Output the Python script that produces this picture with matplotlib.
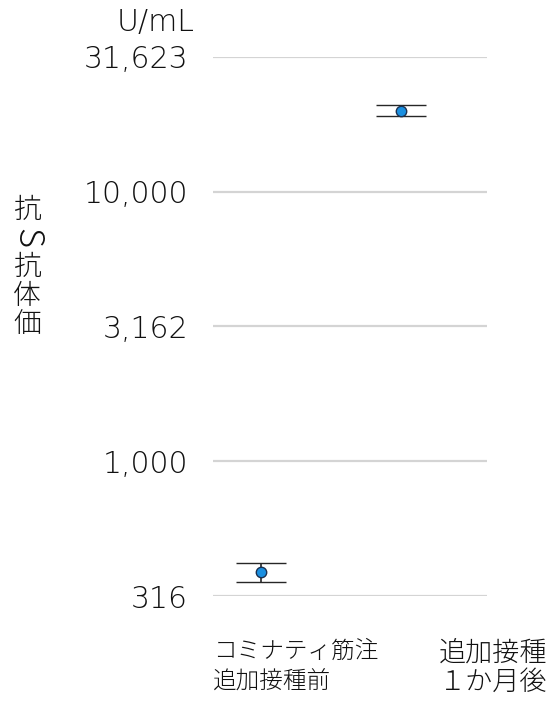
import numpy as np
import matplotlib.pyplot as plt

plt.rcParams['font.family'] = ['Noto Sans CJK JP', 'DejaVu Sans']

# data (U/mL)
groups = ['コミナティ筋注\n追加接種前', '追加接種\n１か月後']
gmt = [388, 19950]
ci_low = [356, 19120]
ci_high = [419, 21000]
yticks = [316, 1000, 3162, 10000, 31623]
ytick_labels = ['316', '1,000', '3,162', '10,000', '31,623']
ylabel = '抗S抗体価'

fig = plt.figure(figsize=(5.5, 7.01), dpi=100)
ax = fig.add_axes([213 / 550, 1 - 596 / 701, 274 / 550, (596 - 57) / 701])

x = np.arange(len(groups))
yerr = [np.array(gmt) - np.array(ci_low), np.array(ci_high) - np.array(gmt)]
ax.errorbar(x, gmt, yerr=yerr, fmt='o', ecolor='#262626',
            elinewidth=1.2, capsize=18, capthick=2.2,
            markerfacecolor='#1a8fe0', markeredgecolor='#1a3050',
            markersize=7.5, markeredgewidth=1, zorder=3)

ax.set_yscale('log')
ax.set_ylim(316, 31623)
ax.set_xlim(-0.343, 1.614)
ax.set_yticks(yticks)
ax.set_yticklabels(ytick_labels, fontsize=21.5, color='#111111',
                   family='DejaVu Sans', fontweight='light')
ax.yaxis.set_minor_locator(plt.NullLocator())
ax.tick_params(axis='y', length=0, pad=18)
ax.set_xticks([])
ax.grid(axis='y', color='#d4d4d4', linewidth=1.6)
for s in ax.spines.values():
    s.set_visible(False)

fig.text(195 / 550, 1 - 22 / 701, 'U/mL', ha='right', va='center',
         fontsize=21.5, color='#111111', family='DejaVu Sans', fontweight='light')

# vertical y label, one character per line, Latin letter turned sideways
for i, ch in enumerate(ylabel):
    latin = ch.isascii()
    fig.text(27 / 550, 1 - (210 + 28.5 * i) / 701, ch, ha='center', va='center',
             fontsize=25 if latin else 20, color='#111111', fontweight='light',
             rotation=-90 if latin else 0)

fig.text(213 / 550, 1 - 667 / 701, groups[0], ha='left', va='center',
         fontsize=17, linespacing=1.3, color='#111111', fontweight='light')
fig.text(547 / 550, 1 - 667 / 701, groups[1], ha='right', va='center',
         fontsize=19.5, linespacing=1.05, color='#111111', fontweight='light',
         multialignment='right')

fig.savefig('out.png', dpi=100)
